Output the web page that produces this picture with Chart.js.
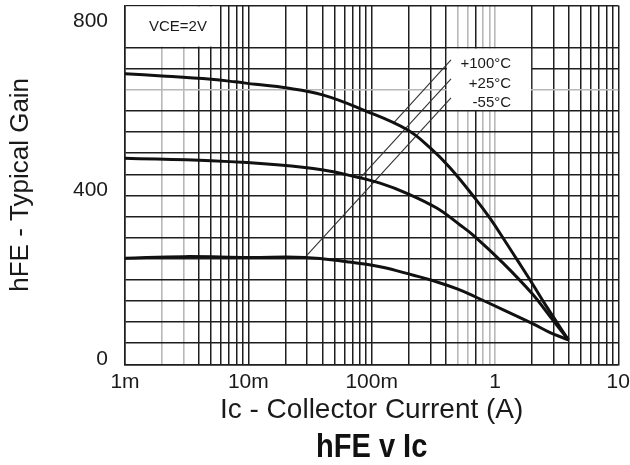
<!DOCTYPE html>
<html>
<head>
<meta charset="utf-8">
<script src="https://cdn.jsdelivr.net/npm/chart.js@4"></script>
<style>
  html, body { margin: 0; padding: 0; background: #fff; }
  #wrap { width: 630px; height: 465px; }
</style>
</head>
<body>
<div id="wrap"><canvas id="myChart" width="630" height="465"></canvas></div>
<script>
// hFE vs collector current, VCE = 2V, three temperatures
const ic100 = [0.001, 0.002, 0.005, 0.0078, 0.0114, 0.02, 0.04, 0.086, 0.193, 0.3, 0.43, 0.69, 0.91, 1.17, 1.5, 2.0, 2.63, 3.94];
const hfe100 = [688, 683, 675, 669, 663, 655, 638, 602, 556, 512, 466, 393, 346, 298, 249, 192, 136, 58];

const ic25 = [0.001, 0.005, 0.018, 0.0406, 0.074, 0.117, 0.193, 0.337, 0.521, 0.69, 1.17, 1.99, 2.8, 3.94];
const hfe25 = [488, 482, 472, 460, 444, 429, 405, 370, 330, 302, 239, 168, 113, 58];

const icM55 = [0.001, 0.003, 0.01, 0.0288, 0.063, 0.117, 0.218, 0.316, 0.5, 0.69, 1.17, 2.0, 2.8, 3.94];
const hfeM55 = [251, 255, 253, 253, 243, 231, 211, 198, 178, 160, 129, 97, 75, 58];

// leader lines from each curve to its label
const leaderIc = [[0.149, 0.44], [0.0805, 0.44], [0.0288, 0.44]];
const leaderHfe = [[570, 721], [441, 676], [253, 631]];
const tempLabels = ['+100°C', '+25°C', '-55°C'];

const xTickValues = [0.001, 0.01, 0.1, 1, 10];
const xTickLabels = ['1m', '10m', '100m', '1', '10'];
const yTickLabels = [0, 400, 800];

// minor log grid: 1..9 per decade
const xGrid = [];
for (let k = -3; k <= 0; k++) {
    for (let n = 1; n <= 9; n++) xGrid.push(n * Math.pow(10, k));
}
xGrid.push(10);
const yGrid = [];
for (let v = 0; v <= 850; v += 50) yGrid.push(v);

const grayX = [0.002, 0.003, 0.5, 0.6, 0.8, 0.9, 1];
const near = (a, b) => Math.abs(Math.log10(a) - Math.log10(b)) < 1e-6;

Chart.defaults.font.family = '"Liberation Sans", Arial, sans-serif';
Chart.defaults.color = '#1a1a1a';

const toXY = (xs, ys) => xs.map((x, i) => ({x: x, y: ys[i]}));

const curveStyle = {
    borderColor: '#111',
    borderWidth: 3,
    pointRadius: 0,
    tension: 0.4,
    fill: false
};
const leaderStyle = {
    borderColor: '#333',
    borderWidth: 1.1,
    pointRadius: 0,
    tension: 0,
    fill: false
};

const datasets = [
    Object.assign({label: '+100°C', data: toXY(ic100, hfe100)}, curveStyle),
    Object.assign({label: '+25°C', data: toXY(ic25, hfe25)}, curveStyle),
    Object.assign({label: '-55°C', data: toXY(icM55, hfeM55)}, curveStyle)
];
leaderIc.forEach((xs, i) => {
    datasets.push(Object.assign({label: 'lead' + i, data: toXY(xs, leaderHfe[i])}, leaderStyle));
});

// white boxes over the grid + their texts + bottom title
const boxesPlugin = {
    id: 'boxes',
    beforeDatasetsDraw(chart) {
        const {ctx, scales: {x, y}} = chart;
        ctx.save();
        ctx.fillStyle = '#fff';
        // VCE box
        let x0 = x.getPixelForValue(0.001), x1 = x.getPixelForValue(0.006);
        let y0 = y.getPixelForValue(850), y1 = y.getPixelForValue(750);
        ctx.fillRect(x0 + 1, y0 + 1, x1 - x0 - 2, y1 - y0 - 2);
        // temperature label box
        x0 = x.getPixelForValue(0.4); x1 = x.getPixelForValue(2);
        y0 = y.getPixelForValue(750); y1 = y.getPixelForValue(600);
        ctx.fillRect(x0 + 1, y0 + 1, x1 - x0 - 2, y1 - y0 - 2);
        ctx.restore();
    },
    afterDatasetsDraw(chart) {
        const {ctx, scales: {x, y}} = chart;
        ctx.save();
        ctx.fillStyle = '#1a1a1a';
        ctx.font = '15px "Liberation Sans", Arial, sans-serif';
        ctx.textBaseline = 'middle';
        ctx.textAlign = 'center';
        ctx.fillText('VCE=2V', (x.getPixelForValue(0.001) + x.getPixelForValue(0.006)) / 2 + 5, y.getPixelForValue(800));
        ctx.textAlign = 'right';
        const ys = [711, 665, 619];
        tempLabels.forEach((t, i) => {
            ctx.fillText(t, x.getPixelForValue(1.35), y.getPixelForValue(ys[i]));
        });
        ctx.restore();
    },
    afterDraw(chart) {
        const {ctx, chartArea} = chart;
        ctx.save();
        ctx.fillStyle = '#111';
        ctx.font = 'bold 33px "Liberation Sans", Arial, sans-serif';
        ctx.textAlign = 'center';
        ctx.textBaseline = 'middle';
        // the original title face is a condensed bold
        ctx.translate((chartArea.left + chartArea.right) / 2, 448);
        ctx.scale(0.88, 1);
        ctx.fillText('hFE v Ic', 0, 0);
        ctx.restore();
    }
};

const config = {
    type: 'line',
    data: {datasets: datasets},
    options: {
        responsive: false,
        animation: false,
        devicePixelRatio: 1,
        layout: {padding: {top: 5.4, right: 11.7, left: 0, bottom: 38}},
        plugins: {
            legend: {display: false},
            tooltip: {enabled: false}
        },
        scales: {
            x: {
                type: 'logarithmic',
                min: 0.001,
                max: 10,
                afterBuildTicks: (scale) => {
                    scale.ticks = xGrid.map(v => ({value: v}));
                },
                afterFit: (scale) => {
                    scale.height = 62.7;
                    scale.paddingLeft = 0;
                    scale.paddingRight = 0;
                },
                ticks: {
                    autoSkip: false,
                    maxRotation: 0,
                    minRotation: 0,
                    padding: 5,
                    font: {size: 21},
                    callback: (value) => {
                        const i = xTickValues.findIndex(v => near(v, value));
                        return i >= 0 ? xTickLabels[i] : '';
                    }
                },
                grid: {
                    drawTicks: false,
                    color: (c) => (c.tick && grayX.some(v => near(v, c.tick.value))) ? '#b8b8b8' : '#1e1e1e',
                    lineWidth: (c) => (c.tick && grayX.some(v => near(v, c.tick.value))) ? 1.6 : 1.5
                },
                border: {color: '#1e1e1e', width: 1.5},
                title: {
                    display: true,
                    text: 'Ic - Collector Current (A)',
                    font: {size: 28},
                    padding: {top: 0, bottom: 0}
                }
            },
            y: {
                min: 0,
                max: 850,
                afterBuildTicks: (scale) => {
                    scale.ticks = yGrid.map(v => ({value: v}));
                },
                afterFit: (scale) => {
                    scale.width = 125;
                    scale.paddingTop = 0;
                    scale.paddingBottom = 0;
                },
                ticks: {
                    autoSkip: false,
                    padding: 17,
                    labelOffset: -5,
                    font: {size: 21},
                    callback: (value) => yTickLabels.includes(value) ? String(value) : ''
                },
                grid: {
                    drawTicks: false,
                    color: (c) => {
                        if (!c.tick) return '#1e1e1e';
                        if (c.tick.value === 800) return 'rgba(0,0,0,0)';
                        if (c.tick.value === 650) return '#b8b8b8';
                        return '#1e1e1e';
                    },
                    lineWidth: (c) => (c.tick && c.tick.value === 650) ? 1.6 : 1.5
                },
                border: {color: '#1e1e1e', width: 1.5},
                title: {
                    display: true,
                    text: 'hFE - Typical Gain',
                    font: {size: 26},
                    padding: {top: 5, bottom: 0}
                }
            }
        }
    },
    plugins: [boxesPlugin]
};

const myChart = new Chart(document.getElementById('myChart'), config);
</script>
</body>
</html>
